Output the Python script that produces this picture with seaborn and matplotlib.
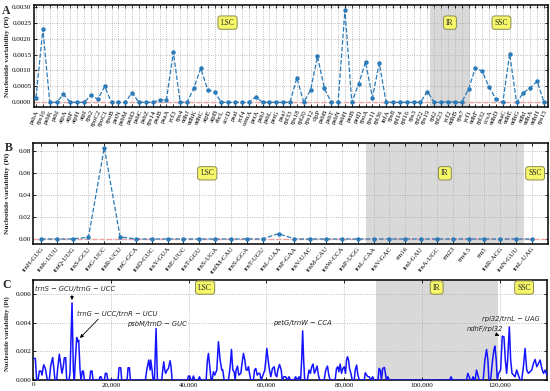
import numpy as np
import matplotlib
matplotlib.use('Agg')
import matplotlib.pyplot as plt
import seaborn as sns
from matplotlib.ticker import FormatStrFormatter, FuncFormatter

# ---------------- data ----------------
genes = ["psbA", "rps16", "psbK", "psbI", "atpA", "atpF", "atpH", "atpI", "rps2", "rpoC2",
         "rpoC1", "rpoB", "petN", "psbM", "psbD", "psbC", "psbZ", "rps14", "psaB", "psaA",
         "ycf3", "rps4", "ndhJ", "ndhK", "ndhC", "atpE", "atpB", "rbcL", "accD", "psaI",
         "ycf4", "cemA", "petA", "psbJ", "psbL", "petG", "psaJ", "rpl33", "rps18", "rpl20",
         "rps12", "clpP", "psbB", "psbT", "psbN", "psbH", "petB", "petD", "rpoA", "rps11",
         "rpl36", "infA", "rps8", "rpl14", "rpl16", "rps3", "rpl22", "rps19", "rpl2", "rpl23",
         "ycf2", "ndhB", "rps7", "ycf1", "ndhF", "rpl32", "ccsA", "ndhD", "psaC", "ndhE",
         "ndhG", "ndhI", "ndhA", "ndhH", "rps15"]
gene_pi = [0.00015, 0.0023, 0, 0, 0.00025, 0, 0, 0, 0.00022, 0.0001,
           0.0005, 0, 0, 0, 0.0003, 0, 0, 0, 0.00008, 0.00008,
           0.00158, 0, 0, 0.00045, 0.00107, 0.0004, 0.00032, 0, 0, 0,
           0, 0, 0.00017, 0, 0, 0, 0, 0, 0.00077, 0,
           0.00039, 0.00144, 0.00044, 0, 0, 0.0029, 0, 0.00058, 0.00127, 0.00015,
           0.00123, 0, 0, 0, 0, 0, 0, 0.00034, 0, 0,
           0.00002, 0, 0, 0.00041, 0.00108, 0.00098, 0.00047, 0.0001, 0, 0.00152,
           0, 0.0003, 0.00046, 0.00066, 0]

trnas = ["trnH-GUG", "trnK-UUU", "trnQ-UUG", "trnS-GCU", "trnG-UCC", "trnR-UCU", "trnC-GCA",
         "trnD-GUC", "trnY-GUA", "trnE-UUC", "trnT-GGU", "trnS-UGA", "trnfM-CAU", "trnS-GGA",
         "trnT-UGU", "trnL-UAA", "trnF-GAA", "trnV-UAC", "trnM-CAU", "trnW-CCA", "trnP-UGG",
         "trnL-CAA", "trnV-GAC", "rrn16", "trnI-GAU", "trnA-UGC", "rrn23", "rrn4.5", "rrn5",
         "trnR-ACG", "trnN-GUU", "trnL-UAG"]
trna_pi = [0, 0, 0, 0.0015, 0.0835, 0.0018, 0, 0, 0, 0, 0, 0, 0, 0, 0, 0.0049,
           0, 0, 0, 0, 0, 0, 0, 0, 0, 0, 0, 0, 0, 0, 0, 0]

win_pos = [0, 515, 858, 1202, 1545, 1974, 2232, 2661, 3090, 3605, 4120, 4464, 4979, 5322, 5580,
           6009, 6266, 6696, 7125, 7382, 7726, 7983, 8326, 8584, 9185, 9442, 9957, 10301, 10558,
           10816, 11159, 11417, 11674, 12018, 12275, 12618, 12876, 13134, 14507, 14764, 15108,
           15365, 16910, 17168, 17426, 17683, 18284, 18541, 18885, 19142, 21803, 22061, 22490,
           22748, 24121, 24379, 24722, 24979, 28842, 29186, 29701, 30044, 30216, 30559, 30817,
           31160, 31589, 31932, 33048, 33306, 33563, 33821, 34078, 34422, 34765, 35194, 35452,
           35709, 39658, 39916, 40259, 40516, 40860, 41203, 41547, 42405, 42748, 43092, 44465,
           44808, 45066, 45495, 45753, 46010, 46354, 46697, 47212, 47641, 48070, 48500, 48757,
           49100, 50216, 50646, 50989, 51332, 51676, 51933, 52191, 52534, 52877, 53392, 53822,
           54079, 54422, 54766, 55109, 55367, 55624, 55968, 56654, 56912, 57255, 57598, 57942,
           58285, 58629, 59573, 59830, 60088, 60431, 60775, 61118, 61547, 61976, 62320, 62663,
           62932, 63363, 63794, 64053, 64484, 64915, 65346, 65777, 66208, 67070, 67501, 67932,
           68363, 68794, 69053, 69312, 69570, 69829, 70518, 70949, 71294, 71639, 71983, 72328,
           72673, 73018, 73363, 73707, 74828, 75259, 75690, 76035, 76380, 77673, 78017, 78362,
           78621, 78966, 79310, 79655, 80000, 80345, 80603, 80862, 81121, 81379, 81724, 82069,
           82586, 82845, 83189, 83534, 83879, 85172, 85431, 85775, 86120, 86465, 86810, 87327,
           87672, 88706, 88965, 89310, 89568, 89913, 90344, 90603, 90862, 91206, 91637, 107153,
           107498, 107843, 111463, 111808, 112153, 112497, 112842, 113187, 113532, 113704,
           114049, 114394, 114739, 115773, 116204, 116635, 116980, 117238, 117669, 118187,
           118531, 118790, 119135, 119393, 119738, 120255, 120686, 121117, 121462, 121807,
           122066, 122497, 122841, 123186, 123962, 124393, 124824, 125255, 125686, 126117,
           126548, 126979, 127410, 128272, 128703, 129134, 129565, 129996, 130427, 130858,
           131289, 131720, 132151]
win_pi = [0.00151, 0.00151, 0, 0, 0.00063, 0.00063, 0.00035, 0.00107, 0.00081, 0, 0, 0.00098,
          0.00158, 0.0007, 0, 0, 0.00081, 0.00181, 0.00093, 0.00047, 0.00098, 0.00156, 0.00156,
          0, 0, 0.00047, 0.0054, 0.0007, 0, 0.0014, 0.00298, 0.00268, 0.00279, 0.0007, 0,
          0.00063, 0.00063, 0, 0, 0.00063, 0.00063, 0, 0, 0.00023, 0.00023, 0, 0, 0.00047,
          0.00047, 0, 0, 0.00086, 0.00086, 0, 0, 0.00086, 0.00086, 0, 0, 0.0007, 0.0014,
          0.0007, 0.0014, 0.0007, 0, 0, 0.00361, 0, 0, 0.0007, 0.00128, 0.0007, 0.00047,
          0.0007, 0.00081, 0.00135, 0.00093, 0, 0, 0.00028, 0.00028, 0, 0, 0.00028, 0, 0,
          0.00023, 0, 0, 0.0014, 0.00186, 0.0007, 0, 0, 0.00058, 0.00035, 0.0007, 0.00268,
          0.0014, 0.0007, 0.0007, 0, 0, 0.00093, 0.00214, 0.0007, 0.00058, 0, 0.0007, 0.00098,
          0.00035, 0.00047, 0.0014, 0.00186, 0.0014, 0.0007, 0.0007, 0.00093, 0.00047, 0, 0,
          0.0007, 0.00081, 0.00035, 0.00047, 0.00047, 0, 0.0007, 0.0014, 0.00221, 0.0014,
          0.0007, 0.00023, 0.00081, 0.00093, 0.00035, 0.00023,
          0.0007, 0.00109, 0.0007, 0, 0.00023, 0.00023, 0, 0.00023, 0, 0, 0.00023, 0,
          0.00023, 0, 0.0014, 0.00344, 0.0014, 0, 0, 0.0007, 0.00047, 0.00093, 0.00112,
          0.00047, 0.0007, 0.00098, 0.00035, 0, 0, 0.0007, 0.00098, 0.00035, 0, 0, 0.00081,
          0.00093, 0.00058, 0.00112, 0.00047, 0.00081, 0.00093, 0.00047, 0.0014, 0.00163,
          0.0014, 0.00081, 0.00047, 0, 0, 0.0007, 0.00105, 0.00035, 0, 0, 0.00051, 0.00035,
          0.00023, 0.00023, 0, 0.00023, 0, 0, 0.00081, 0.0007, 0, 0.00081, 0.00088, 0.00047,
          0, 0.00023, 0, 0, 0.00023, 0, 0, 0.00047, 0.00023, 0, 0, 0.00023, 0, 0, 0.0007,
          0.00035, 0, 0, 0.0014, 0.00214, 0.0014, 0, 0, 0.0014, 0.00209, 0.00237, 0.0014, 0,
          0.00047, 0.0007, 0.00307, 0.00302, 0.0014, 0.00047, 0.0014, 0.00372, 0.0014,
          0.00047, 0.00023, 0.0007, 0.00035, 0, 0, 0.00093, 0.00221, 0.0007, 0.00047, 0.0007,
          0.00116, 0.00144, 0.00093, 0.00116, 0.0014, 0.00081, 0.00047, 0.0007, 0.00035]

# ---------------- style ----------------
sns.set_theme(style='ticks')
plt.rcParams['font.family'] = ['Liberation Serif', 'DejaVu Serif']

fig = plt.figure(figsize=(5.5, 3.91), dpi=100)
axA = fig.add_axes([0.061, 0.726, 0.935, 0.261])
axB = fig.add_axes([0.060, 0.376, 0.936, 0.258])
axC = fig.add_axes([0.0606, 0.028, 0.934, 0.256])

shade = '#d9d9d9'
ptcol = '#2a7ab8'
box = dict(boxstyle='round,pad=0.35', fc='#f7f76a', ec='#8a8a50', lw=0.7)


def style(ax, ylab_size=5.3):
    for s in ax.spines.values():
        s.set_color('black')
        s.set_linewidth(1.1)
    ax.tick_params(direction='in', top=True, right=True, length=2.5, width=0.6,
                   labelsize=5, pad=1.5, colors='black')
    ax.grid(True, ls=':', color='#aaaaaa', lw=0.6)
    ax.set_axisbelow(True)
    ax.set_ylabel('Nucleotide variability (Pi)', fontsize=ylab_size, fontweight='bold')
    ax.yaxis.set_label_coords(-0.045, 0.5)


# ---- Panel A ----
xa = np.arange(len(genes))
axA.axvspan(57.4, 63.2, color=shade, zorder=0, lw=0)
axA.axhline(0, color='#f2a0a0', ls='--', lw=1.0, zorder=1)
sns.lineplot(x=xa, y=gene_pi, ax=axA, color=ptcol, linestyle='--', lw=0.9, marker='o',
             markersize=3.2, markeredgewidth=0, estimator=None, zorder=3)
axA.set_xlim(-0.36, 74.55)
axA.set_ylim(-0.00015, 0.00305)
axA.set_yticks(np.arange(0, 0.00301, 0.0005))
axA.yaxis.set_major_formatter(FormatStrFormatter('%.4f'))
axA.set_xticks(xa)
axA.set_xticklabels(genes, rotation=65, ha='right', rotation_mode='anchor', fontsize=4.3)
style(axA)
axA.text(27.9, 0.0025, 'LSC', ha='center', va='center', fontsize=5.5, bbox=box)
axA.text(60.3, 0.0025, 'IR', ha='center', va='center', fontsize=5.5, bbox=box)
axA.text(67.8, 0.0025, 'SSC', ha='center', va='center', fontsize=5.5, bbox=box)

# ---- Panel B ----
xb = np.arange(len(trnas))
axB.axvspan(20.5, 30.5, color=shade, zorder=0, lw=0)
axB.axhline(0, color='#f2a0a0', ls='--', lw=1.0, zorder=1)
sns.lineplot(x=xb, y=trna_pi, ax=axB, color=ptcol, linestyle='--', lw=0.9, marker='o',
             markersize=3.2, markeredgewidth=0, estimator=None, zorder=3)
axB.set_xlim(-0.5, 32.0)
axB.set_ylim(-0.0046, 0.0876)
axB.set_yticks(np.arange(0, 0.081, 0.02))
axB.yaxis.set_major_formatter(FormatStrFormatter('%.2f'))
axB.set_xticks(xb)
axB.set_xticklabels(trnas, rotation=50, ha='right', rotation_mode='anchor', fontsize=4.5)
style(axB)
axB.text(10.5, 0.060, 'LSC', ha='center', va='center', fontsize=5.5, bbox=box)
axB.text(25.5, 0.060, 'IR', ha='center', va='center', fontsize=5.5, bbox=box)
axB.text(31.2, 0.060, 'SSC', ha='center', va='center', fontsize=5.5, bbox=box)

# ---- Panel C ----
axC.axvspan(88200, 119550, color=shade, zorder=0, lw=0)
sns.lineplot(x=win_pos, y=win_pi, ax=axC, color='#1414ff', lw=1.1, estimator=None,
             sort=False, zorder=3)
axC.set_xlim(0, 132200)
axC.set_ylim(0, 0.007)
axC.set_xticks(np.arange(0, 120001, 20000))
axC.xaxis.set_major_formatter(FuncFormatter(lambda v, p: f'{v:,.0f}'))
axC.set_yticks(np.arange(0, 0.0061, 0.002))
axC.yaxis.set_major_formatter(FormatStrFormatter('%.3f'))
style(axC, ylab_size=4.9)
axC.yaxis.set_label_coords(-0.045, 0.46)
axC.text(44200, 0.00647, 'LSC', ha='center', va='center', fontsize=5.5, bbox=box)
axC.text(103800, 0.00647, 'IR', ha='center', va='center', fontsize=5.5, bbox=box)
axC.text(126300, 0.00647, 'SSC', ha='center', va='center', fontsize=5.5, bbox=box)

ann = dict(fontsize=4.9, style='italic', family=['DejaVu Sans'], va='center', ha='left')
arr = dict(arrowstyle='-|>', color='black', lw=0.6, mutation_scale=5)
axC.text(430, 0.00635, 'trnS − GCU/trnG − UCC', **ann)
axC.annotate('', xy=(9950, 0.0054), xytext=(9950, 0.0061), arrowprops=arr)
axC.text(11330, 0.00465, 'trnG − UCC/trnR − UCU', **ann)
axC.annotate('', xy=(11500, 0.0028), xytext=(17200, 0.0044), arrowprops=arr)
axC.text(24035, 0.0039, 'psbM/trnD − GUC', **ann)
axC.text(61640, 0.0040, 'petG/trnW − CCA', **ann)
axC.text(115342, 0.00428, 'rpl32/trnL − UAG', **ann)
axC.text(111463, 0.0036, 'ndhF/rpl32', **ann)
axC.annotate('', xy=(120600, 0.00305), xytext=(119000, 0.0032), arrowprops=arr)

# panel letters
fig.text(0.004, 0.987, 'A', fontsize=8.5, fontweight='bold', va='top', ha='left')
fig.text(0.008, 0.637, 'B', fontsize=8.5, fontweight='bold', va='top', ha='left')
fig.text(0.004, 0.286, 'C', fontsize=8.5, fontweight='bold', va='top', ha='left')

fig.savefig('out.png', dpi=100)
